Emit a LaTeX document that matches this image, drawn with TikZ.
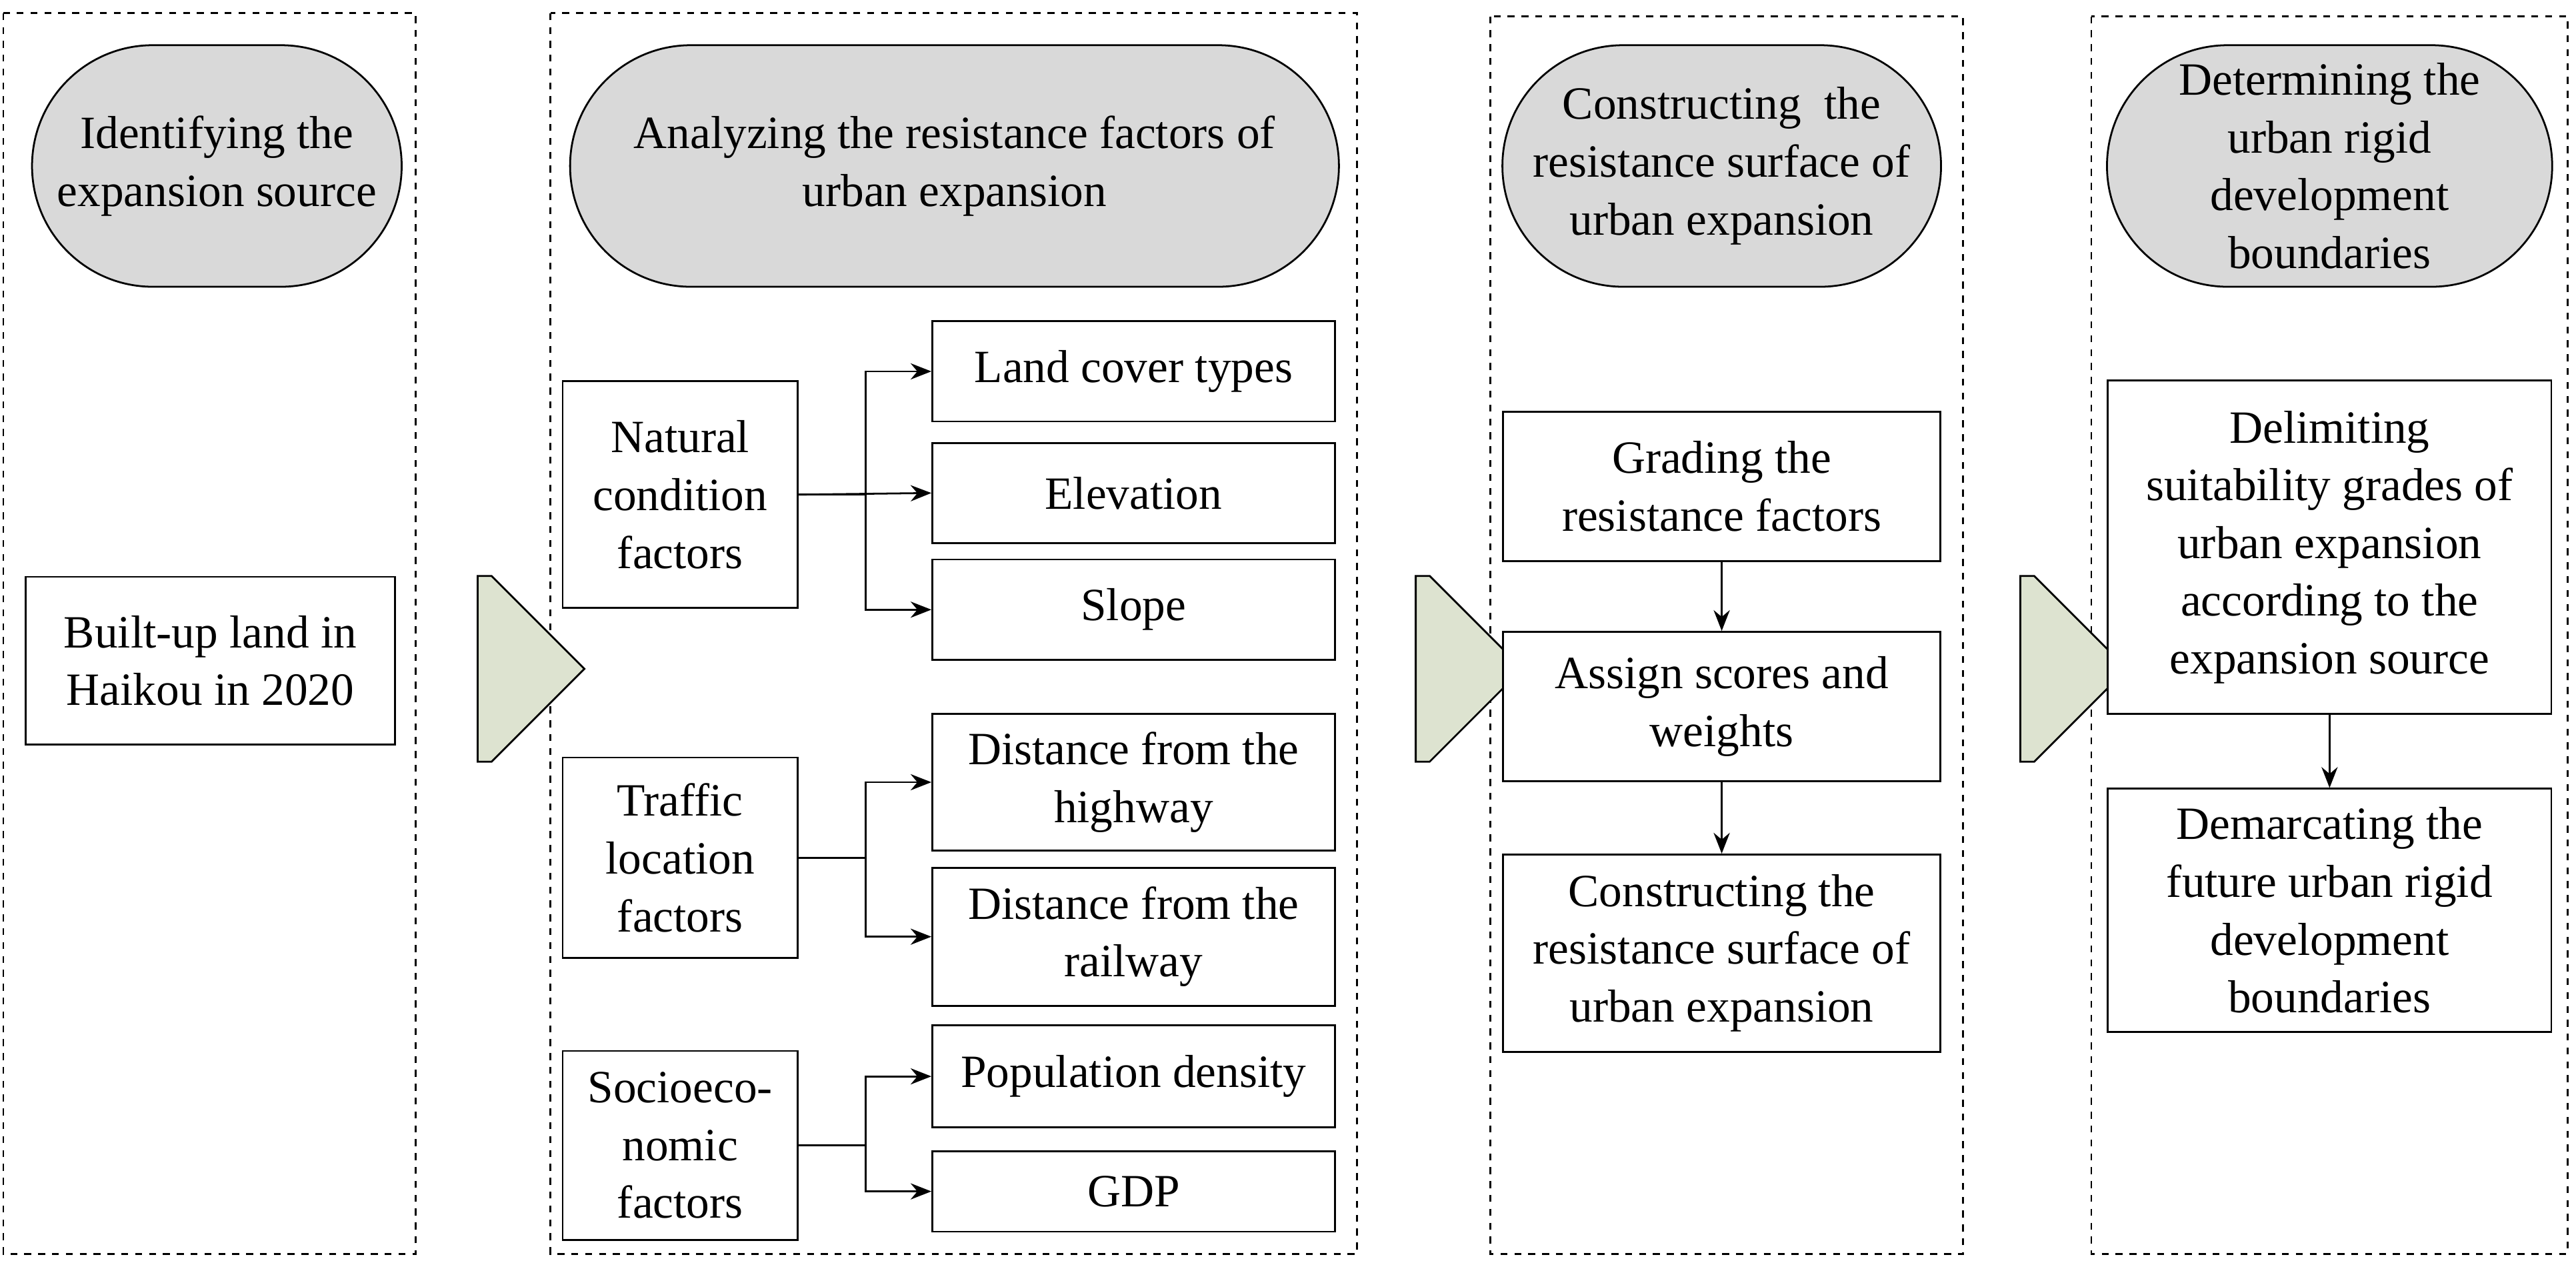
\documentclass[tikz,border=0pt]{standalone}
\usepackage{fontspec}
\setmainfont{Liberation Serif}
\usetikzlibrary{shapes.misc,shapes.arrows,arrows.meta}
\definecolor{capgray}{RGB}{217,217,217}
\definecolor{arrowgreen}{RGB}{221,227,208}
\tikzset{
	panel/.style={draw, dashed, thick},
	header/.style={draw, thick, fill=capgray, rounded rectangle, inner sep=0pt, align=center},
	box/.style={draw, thick, fill=white, inner sep=0pt, align=center},
	bigarrow/.style={draw, thick, fill=arrowgreen, single arrow, single arrow head extend=0pt,
		minimum height=65*0.025cm, minimum width=113*0.025cm, inner sep=0pt},
	link/.style={thick, -{Stealth[length=9pt,width=7pt]}}
}
\begin{document}
\begin{tikzpicture}[x=0.025cm, y=-0.025cm, font=\fontsize{20}{25}\selectfont]

	\useasboundingbox (0,0) rectangle (1568,771);

	% panels
	\draw [panel] (2,8) rectangle (253,763);
	\draw [panel] (335,8) rectangle (826,763);
	\draw [panel] (907,10) rectangle (1195,763);
	\draw [panel] (1273,10) rectangle (1563,763);

	% headers
	\node [header, minimum width=225*0.025cm, minimum height=147*0.025cm] (capA) at (132,101) {Identifying the\\expansion source};
	\node [header, minimum width=468*0.025cm, minimum height=147*0.025cm] (capB) at (581,101) {Analyzing the resistance factors of\\urban expansion};
	\node [header, minimum width=267*0.025cm, minimum height=147*0.025cm] (capC) at (1048,101) {Constructing\ \ the\\resistance surface of\\urban expansion};
	\node [header, minimum width=271*0.025cm, minimum height=147*0.025cm] (capD) at (1418,101) {Determining the\\urban rigid\\development\\boundaries};

	% source
	\node [box, minimum width=225*0.025cm, minimum height=102*0.025cm] (builtup) at (128,402) {Built-up land in\\Haikou in 2020};

	% block arrows
	\node [bigarrow] (arrA) at (295,407) {};
	\node [bigarrow] (arrB) at (866,407) {};
	\node [bigarrow] (arrC) at (1234,407) {};

	% factor groups
	\node [box, minimum width=143*0.025cm, minimum height=138*0.025cm] (natural) at (414,301) {Natural\\condition\\factors};
	\node [box, minimum width=143*0.025cm, minimum height=122*0.025cm] (traffic) at (414,522) {Traffic\\location\\factors};
	\node [box, minimum width=143*0.025cm, minimum height=115*0.025cm] (socio) at (414,697) {Socioeco-\\nomic\\factors};

	% factors
	\node [box, minimum width=245*0.025cm, minimum height=61*0.025cm] (landcover) at (690,226) {Land cover types};
	\node [box, minimum width=245*0.025cm, minimum height=61*0.025cm] (elevation) at (690,300) {Elevation};
	\node [box, minimum width=245*0.025cm, minimum height=61*0.025cm] (slope) at (690,371) {Slope};
	\node [box, minimum width=245*0.025cm, minimum height=83*0.025cm] (highway) at (690,476) {Distance from the\\highway};
	\node [box, minimum width=245*0.025cm, minimum height=84*0.025cm] (railway) at (690,570) {Distance from the\\railway};
	\node [box, minimum width=245*0.025cm, minimum height=62*0.025cm] (population) at (690,655) {Population density};
	\node [box, minimum width=245*0.025cm, minimum height=49*0.025cm] (gdp) at (690,725) {GDP};

	\draw [link] (natural.east) -| (527,226) -- (landcover.west);
	\draw [link] (natural.east) -- (elevation.west);
	\draw [link] (527,300) |- (slope.west);
	\draw [link] (traffic.east) -| (527,476) -- (highway.west);
	\draw [link] (527,522) |- (railway.west);
	\draw [link] (socio.east) -| (527,655) -- (population.west);
	\draw [link] (527,690) |- (gdp.west);

	% surface steps
	\node [box, minimum width=266*0.025cm, minimum height=91*0.025cm] (grading) at (1048,296) {Grading the\\resistance factors};
	\node [box, minimum width=266*0.025cm, minimum height=91*0.025cm] (assign) at (1048,430) {Assign scores and\\weights};
	\node [box, minimum width=266*0.025cm, minimum height=120*0.025cm] (surface) at (1048,580) {Constructing the\\resistance surface of\\urban expansion};
	\draw [link] (grading) -- (assign);
	\draw [link] (assign) -- (surface);

	% boundary steps
	\node [box, minimum width=270*0.025cm, minimum height=203*0.025cm] (delimit) at (1418,333) {Delimiting\\suitability grades of\\urban expansion\\according to the\\expansion source};
	\node [box, minimum width=270*0.025cm, minimum height=148*0.025cm] (demarcate) at (1418,554) {Demarcating the\\future urban rigid\\development\\boundaries};
	\draw [link] (delimit) -- (demarcate);

\end{tikzpicture}
\end{document}
